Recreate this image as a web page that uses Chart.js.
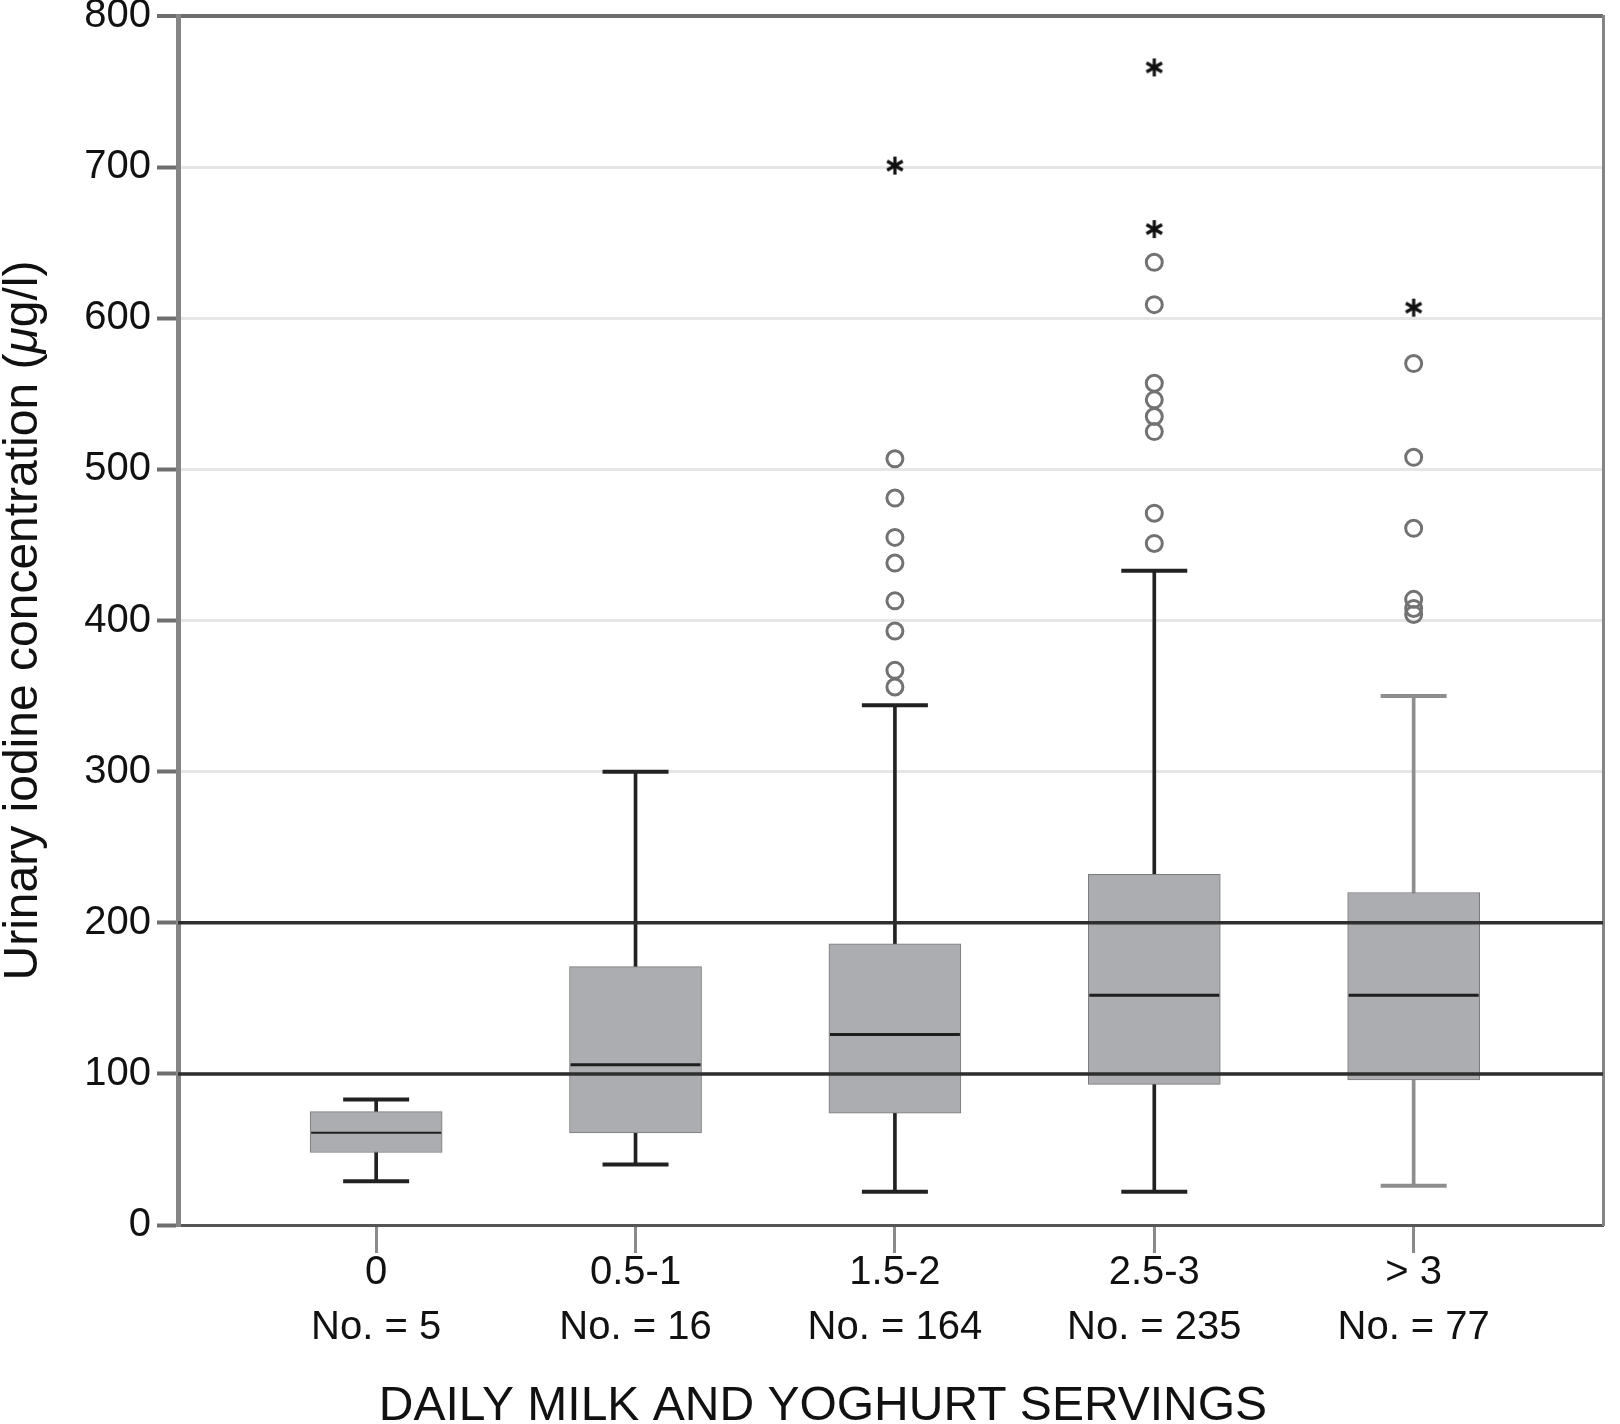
<!DOCTYPE html>
<html>
<head>
<meta charset="utf-8">
<script src="https://cdn.jsdelivr.net/npm/chart.js@4.4.1/dist/chart.umd.min.js"></script>
<style>
  html, body { margin: 0; padding: 0; background: #fff; }
  #wrap { width: 1620px; height: 1424px; }
</style>
</head>
<body>
<div id="wrap"><canvas id="uicChart"></canvas></div>
<script>
// groups on the x axis
const categories = ["0", "0.5-1", "1.5-2", "2.5-3", "> 3"];
const counts = [5, 16, 164, 235, 77];

// box plot stats, ug/l
const whiskerLow  = [29, 40, 22, 22, 26];
const q1          = [48, 61, 74, 93, 96];
const median      = [61, 106, 126, 152, 152];
const q3          = [75, 171, 186, 232, 220];
const whiskerHigh = [83, 300, 344, 433, 350];

// outliers (circles) and extreme values (stars)
const outliers = [
  [],
  [],
  [507, 481, 455, 438, 413, 393, 367, 356],
  [637, 609, 557, 546, 535, 525, 471, 451],
  [570, 508, 461, 414, 408, 404]
];
const extremes = [
  [],
  [],
  [701],
  [766, 659],
  [607]
];

const refLines = [100, 200];
const yTicks = [0, 100, 200, 300, 400, 500, 600, 700, 800];

const xTitle = "DAILY MILK AND YOGHURT SERVINGS";
const yTitle = ["Urinary iodine concentration (", "\u03bc", "g/l)"];

const X_MIN = 0.236, X_MAX = 5.73;
const FONT = "'Liberation Sans', Arial, Helvetica, sans-serif";
const xPos = categories.map((c, i) => i + 1);

const whiskerColors = ["#222", "#222", "#222", "#222", "#8e8e8e"];

function pts(arrs) {
  const out = [];
  arrs.forEach((vals, i) => vals.forEach(v => out.push({ x: xPos[i], y: v })));
  return out;
}

// six spoke asterisk used for extreme values
function asterisk(size, width, color) {
  const c = document.createElement("canvas");
  c.width = size; c.height = size;
  const g = c.getContext("2d");
  g.strokeStyle = color;
  g.lineWidth = width;
  g.lineCap = "butt";
  const r = size / 2 - 1;
  for (let k = 0; k < 3; k++) {
    const a = Math.PI / 2 + k * Math.PI / 3;
    g.beginPath();
    g.moveTo(size / 2 + r * Math.cos(a), size / 2 + r * Math.sin(a));
    g.lineTo(size / 2 - r * Math.cos(a), size / 2 - r * Math.sin(a));
    g.stroke();
  }
  return c;
}

const datasets = [];

// whisker stems (thin floating bars behind boxes)
datasets.push({
  type: "bar",
  data: xPos.map((x, i) => ({ x: x, y: [whiskerLow[i], whiskerHigh[i]] })),
  backgroundColor: whiskerColors,
  barThickness: 3,
  grouped: false,
  order: 10
});

// boxes
datasets.push({
  type: "bar",
  data: xPos.map((x, i) => ({ x: x, y: [q1[i], q3[i]] })),
  backgroundColor: "#acadb0",
  borderColor: "#7a7a7a",
  borderWidth: 1,
  borderSkipped: false,
  barThickness: 132,
  grouped: false,
  order: 8
});

// whisker caps
datasets.push({
  type: "scatter",
  data: xPos.flatMap((x, i) => [{ x: x, y: whiskerLow[i] }, { x: x, y: whiskerHigh[i] }]),
  pointStyle: "line",
  pointRadius: 33,
  pointBorderWidth: 4,
  pointBorderColor: whiskerColors.flatMap(c => [c, c]),
  order: 6
});

// medians
datasets.push({
  type: "scatter",
  data: xPos.map((x, i) => ({ x: x, y: median[i] })),
  pointStyle: "line",
  pointRadius: 65,
  pointBorderWidth: [2, 3, 3, 3, 3],
  pointBorderColor: "#1e1e1e",
  order: 4
});

// reference lines at 100 and 200
refLines.forEach(v => {
  datasets.push({
    type: "line",
    data: [{ x: X_MIN, y: v }, { x: X_MAX, y: v }],
    borderColor: "#2e2e2e",
    borderWidth: 3.5,
    pointRadius: 0,
    order: 2
  });
});

// outliers
datasets.push({
  type: "scatter",
  data: pts(outliers),
  pointStyle: "circle",
  pointRadius: 8,
  pointBorderWidth: 3,
  pointBorderColor: "#727272",
  pointBackgroundColor: "rgba(255,255,255,0)",
  order: 1
});

// extremes
datasets.push({
  type: "scatter",
  data: pts(extremes),
  pointStyle: asterisk(20, 3.2, "#111"),
  pointRadius: 10,
  order: 1
});

// axis titles drawn by hand so the mu can be italic
const titlePlugin = {
  id: "axisTitles",
  afterDraw(chart) {
    const ctx = chart.ctx;
    const area = chart.chartArea;
    ctx.save();
    ctx.fillStyle = "#111";
    ctx.textBaseline = "middle";

    // x title
    ctx.font = "48px " + FONT;
    ctx.textAlign = "center";
    ctx.fillText(xTitle, chart.width * 0.508, chart.height - 17);

    // y title
    const fonts = ["48px " + FONT, "italic 48px " + FONT, "48px " + FONT];
    const widths = yTitle.map((t, i) => { ctx.font = fonts[i]; return ctx.measureText(t).width; });
    const total = widths.reduce((a, b) => a + b, 0);
    ctx.translate(24, (area.top + area.bottom) / 2);
    ctx.rotate(-Math.PI / 2);
    ctx.textAlign = "left";
    let x = -total / 2;
    yTitle.forEach((t, i) => {
      ctx.font = fonts[i];
      ctx.fillText(t, x, 0);
      x += widths[i];
    });
    ctx.restore();
  }
};

new Chart(document.getElementById("uicChart"), {
  type: "bar",
  data: { datasets: datasets },
  plugins: [titlePlugin],
  options: {
    responsive: true,
    maintainAspectRatio: false,
    animation: false,
    layout: { autoPadding: false, padding: { top: 14, left: 0, right: 0, bottom: 0 } },
    plugins: { legend: { display: false }, tooltip: { enabled: false } },
    scales: {
      x: {
        type: "linear",
        position: "bottom",
        min: X_MIN,
        max: X_MAX,
        offset: false,
        afterBuildTicks: s => { s.ticks = xPos.map(v => ({ value: v })); },
        afterFit: s => { s.height = 199; },
        grid: {
          offset: false,
          drawOnChartArea: false,
          drawTicks: true,
          tickLength: 28,
          tickColor: "#8a8a8a",
          tickWidth: 3
        },
        border: { color: "#555", width: 3 },
        ticks: {
          padding: -8,
          autoSkip: false,
          maxRotation: 0,
          color: "#111",
          font: { family: FONT, size: 40, lineHeight: 1.375 },
          callback: v => {
            const i = xPos.indexOf(v);
            return i < 0 ? "" : [categories[i], "No. = " + counts[i]];
          }
        }
      },
      y: {
        min: 0,
        max: 800,
        afterBuildTicks: s => { s.ticks = yTicks.map(v => ({ value: v })); },
        afterFit: s => { s.width = 178; },
        grid: {
          color: c => c.tick.value === 800 ? "#6e6e6e" : (c.tick.value === 0 ? "rgba(0,0,0,0)" : "#e6e6e6"),
          lineWidth: c => c.tick.value === 800 ? 4 : 3,
          tickLength: 21,
          tickColor: "#6e6e6e",
          tickWidth: 4
        },
        border: { color: "#858585", width: 5 },
        ticks: {
          padding: 6,
          color: "#111",
          font: { family: FONT, size: 40, lineHeight: 0.5 }
        }
      },
      y2: {
        position: "right",
        min: 0,
        max: 800,
        afterFit: s => { s.width = 17; },
        grid: { drawOnChartArea: false, drawTicks: false },
        ticks: { display: false },
        border: { color: "#858585", width: 3 }
      }
    }
  }
});
</script>
</body>
</html>
